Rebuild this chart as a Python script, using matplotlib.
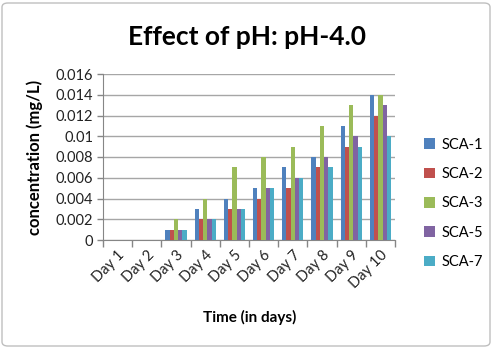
import matplotlib
matplotlib.use("Agg")
import matplotlib.pyplot as plt
import numpy as np
from matplotlib.patches import FancyBboxPatch

days = ["Day 1", "Day 2", "Day 3", "Day 4", "Day 5", "Day 6", "Day 7", "Day 8", "Day 9", "Day 10"]
series = ["SCA-1", "SCA-2", "SCA-3", "SCA-5", "SCA-7"]
sca1 = [0, 0, 0.001, 0.003, 0.004, 0.005, 0.007, 0.008, 0.011, 0.014]
sca2 = [0, 0, 0.001, 0.002, 0.003, 0.004, 0.005, 0.007, 0.009, 0.012]
sca3 = [0, 0, 0.002, 0.004, 0.007, 0.008, 0.009, 0.011, 0.013, 0.014]
sca5 = [0, 0, 0.001, 0.002, 0.003, 0.005, 0.006, 0.008, 0.010, 0.013]
sca7 = [0, 0, 0.001, 0.002, 0.003, 0.005, 0.006, 0.007, 0.009, 0.010]
values = [sca1, sca2, sca3, sca5, sca7]
colors = ["#4F81BD", "#C0504D", "#9BBB59", "#8064A2", "#4BACC6"]
yticks = [0, 0.002, 0.004, 0.006, 0.008, 0.01, 0.012, 0.014, 0.016]
ytick_labels = ["0", "0.002", "0.004", "0.006", "0.008", "0.01", "0.012", "0.014", "0.016"]

plt.rcParams['font.family'] = ['Lato', 'DejaVu Sans']

W, H = 493, 348
fig = plt.figure(figsize=(W / 100, H / 100), dpi=100)
fig.patch.set_facecolor("white")
border = FancyBboxPatch((2 / W, 2 / H), 1 - 5 / W, 1 - 5 / H,
                        boxstyle="round,pad=0,rounding_size=0.012",
                        transform=fig.transFigure, facecolor="none",
                        edgecolor="#BFBFBF", linewidth=1.0)
fig.patches.append(border)

left, right, top, bottom = 103, 395, 74, 240
ax = fig.add_axes([left / W, 1 - bottom / H, (right - left) / W, (bottom - top) / H])
ax.set_facecolor("none")

x = np.arange(len(days))
bw = 0.145
for i, (vals, c, name) in enumerate(zip(values, colors, series)):
    ax.bar(x + (i - 2) * bw, vals, width=bw, color=c, label=name, zorder=3, linewidth=0)

ax.set_xlim(-0.5, len(days) - 0.5)
ax.set_ylim(0, 0.016)
ax.set_yticks(yticks)
ax.set_yticklabels(ytick_labels, fontsize=10.5, color="#222222")
ax.yaxis.grid(True, color="#A6A6A6", linewidth=1.0, zorder=0)
ax.set_axisbelow(True)

ax.set_xticks(x)
ax.set_xticklabels(days, rotation=45, ha="right", rotation_mode="anchor", fontsize=10.5, color="#222222")
ax.tick_params(axis="x", length=0, pad=6)
ax.set_xticks(np.arange(-0.5, len(days)), minor=True)
ax.tick_params(axis="x", which="minor", length=5, color="#868686", width=1)
ax.tick_params(axis="y", length=4, color="#868686", width=1, pad=3)

for s in ["top", "right"]:
    ax.spines[s].set_visible(False)
ax.spines["left"].set_color("#868686")
ax.spines["bottom"].set_color("#868686")

fig.text(247 / W, 1 - 37 / H, "Effect of pH: pH-4.0", ha="center", va="center",
         fontsize=19, fontweight="bold")
fig.text(250 / W, 1 - 317 / H, "Time (in days)", ha="center", va="center",
         fontsize=11, fontweight="bold")
fig.text(35 / W, 1 - 157 / H, "concentration (mg/L)", ha="center", va="center",
         fontsize=12, fontweight="bold", rotation=90)

leg = ax.legend(loc="upper left", bbox_to_anchor=((418 - left) / (right - left), 1 - (132 - top) / (bottom - top)),
                frameon=False, fontsize=10.5, handlelength=0.75, handleheight=0.75,
                labelspacing=1.05, handletextpad=0.45, borderaxespad=0)

fig.savefig("out.png", dpi=100)
